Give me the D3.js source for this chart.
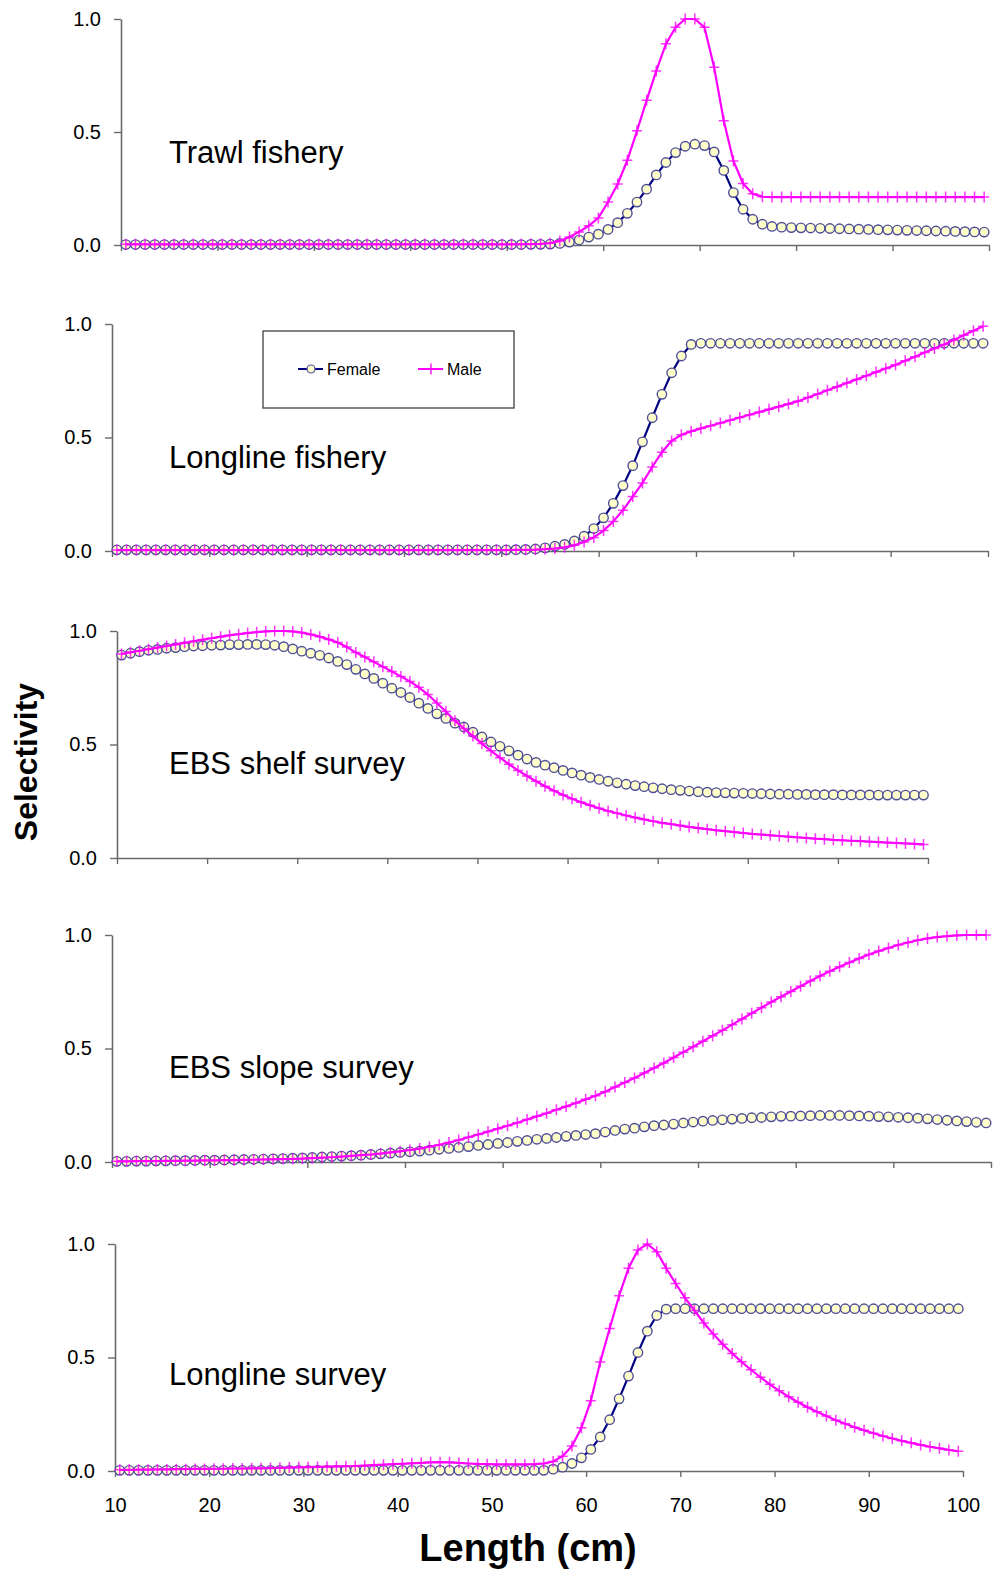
<!DOCTYPE html>
<html>
<head>
<meta charset="utf-8">
<script src="https://cdn.jsdelivr.net/npm/d3@7"></script>
<style>
  body { margin: 0; background: #fff; }
  text { font-family: "Liberation Sans", Arial, sans-serif; }
</style>
</head>
<body>
<svg id="chart"></svg>
<script>
// Length bins (cm), plotted at bin midpoints
const lengths = [
  10.5, 11.5, 12.5, 13.5, 14.5, 15.5, 16.5, 17.5, 18.5, 19.5,
  20.5, 21.5, 22.5, 23.5, 24.5, 25.5, 26.5, 27.5, 28.5, 29.5,
  30.5, 31.5, 32.5, 33.5, 34.5, 35.5, 36.5, 37.5, 38.5, 39.5,
  40.5, 41.5, 42.5, 43.5, 44.5, 45.5, 46.5, 47.5, 48.5, 49.5,
  50.5, 51.5, 52.5, 53.5, 54.5, 55.5, 56.5, 57.5, 58.5, 59.5,
  60.5, 61.5, 62.5, 63.5, 64.5, 65.5, 66.5, 67.5, 68.5, 69.5,
  70.5, 71.5, 72.5, 73.5, 74.5, 75.5, 76.5, 77.5, 78.5, 79.5,
  80.5, 81.5, 82.5, 83.5, 84.5, 85.5, 86.5, 87.5, 88.5, 89.5,
  90.5, 91.5, 92.5, 93.5, 94.5, 95.5, 96.5, 97.5, 98.5, 99.5
];

const panelTitles = ["Trawl fishery", "Longline fishery", "EBS shelf survey", "EBS slope survey", "Longline survey"];
const seriesNames = ["Female", "Male"];
const xTicks = [10, 20, 30, 40, 50, 60, 70, 80, 90, 100];
const yTicks = [0, 0.5, 1];

// Trawl fishery
const trawlFemale = [
  .002, .002, .002, .002, .002, .002, .002, .002, .002, .002,
  .002, .002, .002, .002, .002, .002, .002, .002, .002, .002,
  .002, .002, .002, .002, .002, .002, .002, .002, .002, .002,
  .002, .002, .002, .002, .002, .002, .002, .002, .002, .002,
  .002, .002, .003, .003, .004, .007, .013, .022, .035, .048,
  .069, .099, .140, .190, .247, .310, .365, .409, .437, .446,
  .440, .412, .330, .232, .158, .114, .092, .082, .079, .077,
  .076, .075, .074, .073, .072, .071, .070, .069, .068, .067,
  .066, .065, .064, .063, .062, .061, .060, .059, .058, .057
];
const trawlMale = [
  .003, .003, .003, .003, .003, .003, .003, .003, .003, .003,
  .003, .003, .003, .003, .003, .003, .003, .003, .003, .003,
  .003, .003, .003, .003, .003, .003, .003, .003, .003, .003,
  .003, .003, .003, .003, .003, .003, .003, .003, .003, .003,
  .003, .003, .004, .005, .008, .018, .035, .058, .085, .120,
  .190, .270, .375, .505, .640, .770, .890, .963, 1.00, 1.00,
  .963, .786, .550, .372, .272, .227, .214, .212, .212, .212,
  .212, .212, .212, .212, .212, .212, .212, .212, .212, .212,
  .212, .212, .212, .212, .212, .212, .212, .212, .212, .212
];

// Longline fishery
const longlineFemale = [
  .005, .005, .005, .005, .005, .005, .005, .005, .005, .005,
  .005, .005, .005, .005, .005, .005, .005, .005, .005, .005,
  .005, .005, .005, .005, .005, .005, .005, .005, .005, .005,
  .005, .005, .005, .005, .005, .005, .005, .005, .005, .005,
  .005, .006, .007, .009, .014, .021, .029, .044, .065, .099,
  .146, .210, .288, .376, .481, .587, .690, .785, .859, .910,
  .915, .915, .915, .915, .915, .915, .915, .915, .915, .915,
  .915, .915, .915, .915, .915, .915, .915, .915, .915, .915,
  .915, .915, .915, .915, .915, .915, .915, .915, .915, .915
];
const longlineMale = [
  .004, .004, .004, .004, .004, .004, .004, .004, .004, .004,
  .004, .004, .004, .004, .004, .004, .004, .004, .004, .004,
  .004, .004, .004, .004, .004, .004, .004, .004, .004, .004,
  .004, .004, .004, .004, .004, .004, .004, .004, .004, .004,
  .004, .005, .005, .006, .008, .011, .016, .025, .040, .060,
  .090, .130, .180, .240, .300, .370, .435, .485, .512, .527,
  .540, .552, .564, .576, .588, .600, .612, .624, .636, .648,
  .660, .676, .692, .708, .724, .740, .756, .772, .788, .804,
  .820, .838, .856, .874, .892, .910, .930, .950, .970, .990
];

// EBS shelf survey
const shelfFemale = [
  .894, .902, .909, .915, .919, .924, .927, .931, .934, .935,
  .937, .938, .940, .940, .941, .941, .940, .937, .931, .921,
  .911, .902, .893, .881, .866, .852, .831, .811, .791, .770,
  .748, .729, .707, .682, .659, .635, .615, .594, .577, .554,
  .533, .511, .492, .472, .453, .436, .421, .409, .398, .386,
  .375, .365, .355, .346, .338, .331, .325, .319, .314, .309,
  .305, .301, .298, .295, .292, .290, .288, .287, .286, .285,
  .284, .283, .282, .281, .281, .280, .280, .279, .279, .279,
  .278, .278, .278, .278, .277, .277, .277, .277, .277, .277
];
const shelfMale = [
  .899, .906, .913, .920, .927, .934, .941, .948, .955, .962,
  .968, .975, .981, .986, .991, .995, .998, 1.00, 1.00, .998,
  .993, .985, .975, .963, .949, .930, .905, .885, .864, .843,
  .822, .800, .778, .752, .720, .683, .645, .605, .570, .537,
  .504, .472, .442, .413, .386, .361, .338, .316, .296, .278,
  .261, .246, .232, .219, .207, .197, .187, .178, .170, .162,
  .155, .149, .143, .137, .132, .127, .122, .118, .114, .110,
  .106, .103, .100, .097, .094, .091, .088, .085, .083, .080,
  .078, .076, .074, .072, .070, .068, .066, .064, .062, .060
];

// EBS slope survey
const slopeFemale = [
  .003, .003, .004, .004, .005, .005, .006, .006, .007, .008,
  .008, .009, .010, .011, .012, .013, .014, .015, .017, .018,
  .020, .022, .024, .026, .028, .030, .033, .036, .039, .042,
  .045, .048, .052, .056, .060, .064, .068, .073, .077, .082,
  .086, .091, .095, .100, .104, .108, .113, .117, .121, .125,
  .132, .139, .145, .149, .155, .160, .163, .167, .172, .176,
  .180, .183, .186, .189, .192, .195, .196, .199, .201, .202,
  .203, .204, .205, .205, .205, .204, .203, .202, .200, .199,
  .197, .195, .193, .190, .187, .184, .181, .178, .175, .172
];
const slopeMale = [
  .003, .003, .004, .004, .004, .005, .005, .006, .006, .007,
  .007, .008, .008, .009, .010, .011, .012, .013, .014, .015,
  .017, .019, .021, .024, .027, .030, .033, .037, .042, .047,
  .053, .059, .067, .076, .086, .097, .109, .121, .134, .147,
  .160, .173, .187, .201, .215, .230, .245, .260, .276, .292,
  .310, .330, .350, .370, .392, .414, .436, .460, .484, .508,
  .532, .556, .580, .605, .630, .655, .680, .705, .728, .751,
  .774, .797, .819, .840, .860, .879, .897, .914, .929, .943,
  .956, .967, .977, .985, .991, .995, .998, 1.00, 1.00, 1.00
];

// Longline survey
const surveyFemale = [
  .003, .003, .003, .003, .003, .003, .003, .003, .003, .003,
  .003, .003, .003, .003, .003, .003, .003, .003, .003, .003,
  .003, .003, .003, .003, .003, .003, .003, .003, .003, .003,
  .003, .003, .003, .003, .003, .003, .003, .003, .003, .003,
  .003, .003, .003, .003, .003, .003, .008, .017, .033, .058,
  .095, .150, .226, .318, .418, .522, .616, .685, .713, .715,
  .715, .715, .715, .715, .715, .715, .715, .715, .715, .715,
  .715, .715, .715, .715, .715, .715, .715, .715, .715, .715,
  .715, .715, .715, .715, .715, .715, .715, .715, .715, .715
];
const surveyMale = [
  .005, .005, .006, .006, .007, .007, .008, .008, .009, .009,
  .010, .010, .011, .011, .012, .012, .013, .014, .015, .016,
  .017, .018, .019, .020, .021, .022, .024, .026, .028, .030,
  .032, .034, .036, .038, .039, .038, .036, .033, .031, .030,
  .029, .029, .029, .029, .030, .033, .042, .065, .110, .190,
  .310, .480, .628, .772, .893, .974, 1.00, .966, .893, .826,
  .763, .707, .652, .603, .558, .518, .481, .446, .413, .382,
  .353, .327, .303, .281, .261, .242, .224, .208, .193, .179,
  .166, .154, .143, .133, .124, .115, .107, .100, .093, .087
];

const panelData = [
  [trawlFemale, trawlMale],
  [longlineFemale, longlineMale],
  [shelfFemale, shelfMale],
  [slopeFemale, slopeMale],
  [surveyFemale, surveyMale]
];

// Plot frames of the five stacked panels (pixels)
const frames = [
  { left: 121, right: 989, top: 19,   bottom: 245,  titleY: 163 },
  { left: 112, right: 988, top: 324,  bottom: 551,  titleY: 468 },
  { left: 117, right: 928, top: 631,  bottom: 858,  titleY: 774 },
  { left: 112, right: 991, top: 935,  bottom: 1162, titleY: 1078 },
  { left: 115, right: 963, top: 1244, bottom: 1471, titleY: 1385 }
];

const width = 995;
const height = 1575;
const femaleLine = "#000080";
const femaleFill = "#ffffcc";
const femaleEdge = "#4d4d99";
const maleColor = "#ff00ff";
const axisColor = "#6a6a6a";
const plusPath = "M-5,0H5M0,-5.5V5.5";

const svg = d3.select("#chart")
  .attr("width", width)
  .attr("height", height);

frames.forEach((f, p) => {
  const x = d3.scaleLinear().domain([10, 100]).range([f.left, f.right]);
  const y = d3.scaleLinear().domain([0, 1]).range([f.bottom, f.top]);
  const g = svg.append("g").attr("class", "panel");

  // y axis
  const yAxis = g.append("g")
    .attr("transform", `translate(${f.left},0)`)
    .call(d3.axisLeft(y).tickValues(yTicks).tickFormat(d3.format(".1f"))
      .tickSize(7).tickSizeOuter(0).tickPadding(13));

  // x axis, labels only on the bottom panel
  const last = p === frames.length - 1;
  const xAxis = g.append("g")
    .attr("transform", `translate(0,${f.bottom})`)
    .call(d3.axisBottom(x).tickValues(xTicks)
      .tickFormat(last ? d3.format("d") : "")
      .tickSize(6).tickSizeOuter(0).tickPadding(21));

  [yAxis, xAxis].forEach(a => {
    a.select(".domain").attr("stroke", axisColor).attr("stroke-width", 1.6);
    a.selectAll(".tick line").attr("stroke", axisColor).attr("stroke-width", 1.4);
    a.selectAll(".tick text").attr("fill", "#000")
      .style("font-family", "'Liberation Sans', Arial, sans-serif");
  });
  yAxis.selectAll(".tick text").style("font-size", "20px");
  xAxis.selectAll(".tick text").style("font-size", "20px");

  // panel title
  g.append("text")
    .attr("x", 169)
    .attr("y", f.titleY)
    .style("font-size", "31px")
    .text(panelTitles[p]);

  const [fem, mal] = panelData[p];
  const femPts = lengths.map((L, i) => ({ L, v: fem[i] }));
  const malPts = lengths.map((L, i) => ({ L, v: mal[i] }));
  const line = d3.line().x(d => x(d.L)).y(d => y(d.v));

  // female: navy line with pale yellow circles
  g.append("path")
    .datum(femPts)
    .attr("d", line)
    .attr("fill", "none")
    .attr("stroke", femaleLine)
    .attr("stroke-width", 2.2);
  g.selectAll(".fem")
    .data(femPts)
    .enter()
    .append("circle")
    .attr("class", "fem")
    .attr("cx", d => x(d.L))
    .attr("cy", d => y(d.v))
    .attr("r", 4.7)
    .attr("fill", femaleFill)
    .attr("stroke", femaleEdge)
    .attr("stroke-width", 1.4);

  // male: magenta line with plus markers
  g.append("path")
    .datum(malPts)
    .attr("d", line)
    .attr("fill", "none")
    .attr("stroke", maleColor)
    .attr("stroke-width", 2.2);
  g.selectAll(".mal")
    .data(malPts)
    .enter()
    .append("path")
    .attr("class", "mal")
    .attr("transform", d => `translate(${x(d.L)},${y(d.v)})`)
    .attr("d", plusPath)
    .attr("stroke", maleColor)
    .attr("stroke-opacity", 0.8)
    .attr("stroke-width", 1.5);
});

// legend inside the second panel
const legend = svg.append("g").attr("transform", "translate(263,331)");
legend.append("rect")
  .attr("width", 251).attr("height", 77)
  .attr("fill", "#fff").attr("stroke", "#404040").attr("stroke-width", 1.3);
legend.append("line").attr("x1", 35).attr("x2", 60).attr("y1", 38).attr("y2", 38)
  .attr("stroke", femaleLine).attr("stroke-width", 2);
legend.append("circle").attr("cx", 48).attr("cy", 38).attr("r", 4)
  .attr("fill", femaleFill).attr("stroke", femaleEdge).attr("stroke-width", 1.2);
legend.append("text").attr("x", 64).attr("y", 44).style("font-size", "16px").text(seriesNames[0]);
legend.append("line").attr("x1", 155).attr("x2", 180).attr("y1", 38).attr("y2", 38)
  .attr("stroke", maleColor).attr("stroke-width", 2);
legend.append("path").attr("transform", "translate(168,38)").attr("d", plusPath)
  .attr("stroke", maleColor).attr("stroke-width", 1.3);
legend.append("text").attr("x", 184).attr("y", 44).style("font-size", "16px").text(seriesNames[1]);

// axis titles
svg.append("text")
  .attr("transform", "translate(37,762) rotate(-90)")
  .attr("text-anchor", "middle")
  .style("font-size", "32px")
  .style("font-weight", "bold")
  .text("Selectivity");

svg.append("text")
  .attr("x", 528)
  .attr("y", 1561)
  .attr("text-anchor", "middle")
  .style("font-size", "38px")
  .style("font-weight", "bold")
  .text("Length (cm)");
</script>
</body>
</html>
